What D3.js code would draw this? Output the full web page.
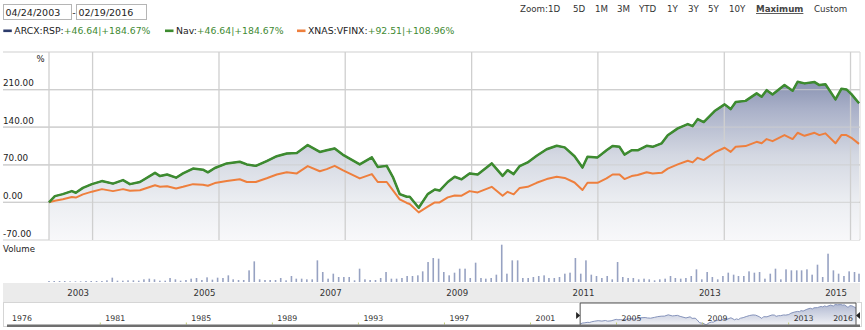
<!DOCTYPE html>
<html><head><meta charset="utf-8">
<script src="https://cdn.jsdelivr.net/npm/d3@7"></script>
<style>
html,body{margin:0;padding:0;background:#fff;}
svg{display:block;font-family:'DejaVu Sans',Verdana,sans-serif;}
</style></head>
<body><svg id="c" width="865" height="330"></svg>
<script>
// ---------------- DATA ----------------
const dates = ["2003-04-24","2003-05-28","2003-07-13","2003-09-03","2003-09-26","2003-11-06","2003-12-28","2004-02-24","2004-04-28","2004-06-25",
"2004-08-04","2004-10-01","2004-12-27","2005-01-25","2005-03-07","2005-04-28","2005-06-07","2005-08-04","2005-09-30","2005-10-29",
"2005-12-08","2006-02-15","2006-05-01","2006-06-11","2006-08-02","2006-10-04","2006-12-01","2007-01-28","2007-03-27","2007-05-29",
"2007-08-07","2007-09-16","2007-11-01","2007-12-17","2008-03-25","2008-06-03","2008-07-07","2008-08-28","2008-10-02","2008-11-11",
"2008-12-22","2009-01-08","2009-03-01","2009-04-22","2009-06-02","2009-06-30","2009-08-16","2009-09-25","2009-11-04","2009-12-20",
"2010-02-05","2010-04-27","2010-06-29","2010-07-28","2010-09-01","2010-10-06","2010-11-21","2011-01-12","2011-03-11","2011-05-08",
"2011-06-23","2011-08-19","2011-10-04","2011-11-02","2011-12-30","2012-02-20","2012-03-26","2012-05-05","2012-06-03","2012-07-14",
"2012-08-18","2012-10-09","2012-11-13","2013-01-04","2013-02-08","2013-04-07","2013-06-04","2013-07-02","2013-07-31","2013-09-04",
"2013-11-06","2014-01-03","2014-02-07","2014-03-08","2014-05-04","2014-07-07","2014-08-05","2014-09-03","2014-10-07","2014-12-15",
"2015-01-31","2015-03-01","2015-04-10","2015-06-07","2015-07-05","2015-08-09","2015-10-06","2015-11-09","2015-12-08","2016-01-06",
"2016-02-19"];
// ARCX:RSP (and Nav, identical) cumulative % return
const rspValues = [0,11.7,15.4,21,18,27,34,39.7,35,41.5, 34,38,55,49,52,46,54,63,61,56, 64,72.6,75.6,70.7,68,77,86,91,92,106.7,
94,97,100.5,89,70.7,83.8,66,68,47.7,15.5, 10.5,10.5,-10,15.5,24,22,38,47.7,43,54, 52,72.6,49.5,60,52.7,67.6,74.5,86.8,99,105.4,
102.4,86,65,85,83.8,97,105,103.5,89,97, 97,105.4,103.5,110,125,137.8,145.8,142,155,149.5, 170,182.5,173.7,187,189,203,196.6,209,201,218.4,
207.8,224.6,221.6,224,218.4,220,191.8,211.5,210.4,201.6, 184.67];
const navValues = rspValues.slice();
// XNAS:VFINX cumulative % return
const vfinxValues = [0,3,6,10,9,15,20,24.7,21,24.7, 21.6,22.5,32,29,30,26,29,34,33,31, 36,40,43,38,38,45,52,56,54,67.6,
58,62,68,60,44.7,52.7,38,38,23,5.6, -1,-3,-18.6,-8,0,0,9.3,13,12.4,21, 18.6,29,12.4,19.7,15,27,29,36.5,43.4,47.7,
45.5,37,23,36.5,36.5,44.7,52,52,43.4,49, 51,56,54,55,63,70.7,77.5,74.5,83,78.8, 93,101.7,94,103.5,104.8,112.8,110,117.9,114,125.3,
117.9,129.6,124,129.6,125.3,128.5,110,125.3,125.3,120.3, 108.96];
// monthly volume (relative units), Apr 2003 .. Feb 2016
const volumeValues = [3,3,3,3,2,2,2,3,3,3,3,5,13,4,4,5,5,4,8,10,8,4,4,12,8,4,6,10,12,6,14,7,13,12,20,8,6,6,
35,62,8,6,6,6,12,5,18,10,10,8,8,65,30,10,25,15,15,15,5,40,8,6,6,12,30,10,10,12,18,18,20,32,60,72,70,30,20,
28,40,40,12,58,12,10,12,22,112,25,65,65,12,12,15,18,20,12,12,15,25,28,72,25,65,22,18,12,18,8,60,15,12,12,8,10,8,5,
8,10,18,12,10,12,18,38,8,30,15,8,18,28,22,18,18,32,28,30,10,25,40,8,38,35,35,35,38,22,52,15,85,35,25,18,32,30,25];
const yTickValues = [-70, 0, 70, 140, 210];
const yTickLabels = ["-70.00","0.00","70.00","140.00","210.00"];
const xTickLabels = ["2003","2005","2007","2009","2011","2013","2015"];
const gridYears = [2004,2006,2008,2010,2012,2014,2016];
const navTickLabels = ["1981","1985","1989","1993","1997","2001","2005","2009","2013"];
const navStartLabel = "1976", navEndLabel = "2016";
const zoomLabels = ["Zoom:","1D","5D","1M","3M","YTD","1Y","3Y","5Y","10Y","Maximum","Custom"];
const legendItems = [
  {name:"ARCX:RSP:", value:"+46.64|+184.67%", color:"#2c3b6b"},
  {name:"Nav:", value:"+46.64|+184.67%", color:"#3d8b2f"},
  {name:"XNAS:VFINX:", value:"+92.51|+108.96%", color:"#ee7f3d"}
];
const startDateLabel = "04/24/2003", endDateLabel = "02/19/2016";

// ---------------- DRAW ----------------
const parse = d3.timeParse("%Y-%m-%d");
const D = dates.map(parse);
const svg = d3.select("#c");
const defs = svg.append("defs");

const x = d3.scaleTime().domain([D[0], D[D.length-1]]).range([49, 859]);
const y = d3.scaleLinear().domain([-70, 280]).range([240, 52]);

// header: date boxes
svg.append("rect").attr("x",3.5).attr("y",4.5).attr("width",68).attr("height",15).attr("fill","#fff").attr("stroke","#b5b5b5");
svg.append("rect").attr("x",76.5).attr("y",4.5).attr("width",70).attr("height",15).attr("fill","#fff").attr("stroke","#b5b5b5");
svg.append("text").attr("x",5.5).attr("y",15.5).attr("font-size",9.5).attr("fill","#222").text(startDateLabel);
svg.append("text").attr("x",72.3).attr("y",15.5).attr("font-size",9.5).attr("fill","#222").text("-");
svg.append("text").attr("x",78.5).attr("y",15.5).attr("font-size",9.5).attr("fill","#222").text(endDateLabel);

// zoom buttons
const zoomX = [520,548,573,595,617,639,667,688,708,729,756,814];
zoomLabels.forEach((t,i)=>{
  const el = svg.append("text").attr("x",zoomX[i]).attr("y",12).attr("font-size",8.7).attr("fill","#333").text(t);
  if (t==="Maximum") el.attr("font-weight","bold").attr("fill","#444").attr("text-decoration","underline");
});

// legend
const legX = [3.3, 165, 297];
legendItems.forEach((d,i)=>{
  svg.append("rect").attr("x",legX[i]).attr("y",29.5).attr("width",8.5).attr("height",2.6).attr("fill",d.color);
  const t = svg.append("text").attr("x",legX[i]+11).attr("y",34).attr("font-size",9.3);
  t.append("tspan").attr("fill","#222").text(d.name);
  t.append("tspan").attr("fill","#3f8a33").text(d.value);
});

// gradient for area
const grad = defs.append("linearGradient").attr("id","ag").attr("gradientUnits","userSpaceOnUse")
  .attr("x1",0).attr("x2",0).attr("y1",y(280)).attr("y2",y(-70));
[[0,"#66729a"],[0.3,"#a9b0c8"],[0.55,"#d4d8e2"],[0.8,"#eceef2"],[1,"#f8f8fa"]].forEach(s=>
  grad.append("stop").attr("offset",s[0]).attr("stop-color",s[1]));

// horizontal gridlines
svg.append("g").selectAll("line").data([...yTickValues, 280]).join("line")
  .attr("x1",3).attr("x2",860).attr("y1",d=>y(d)).attr("y2",d=>y(d))
  .attr("stroke","#d0d0d0").attr("stroke-width",1.2);

// area
const area = d3.area().x((d,i)=>x(D[i])).y0(y(-70)).y1(d=>y(d));
svg.append("path").datum(rspValues).attr("d",area).attr("fill","url(#ag)");

// vertical gridlines
svg.append("g").selectAll("line").data([D[0], ...gridYears.map(yr=>new Date(yr,0,1))]).join("line")
  .attr("x1",d=>x(d)).attr("x2",d=>x(d)).attr("y1",y(280)).attr("y2",y(-70))
  .attr("stroke","#cfcfcf").attr("stroke-width",1.3);
svg.append("line").attr("x1",860).attr("x2",860).attr("y1",y(280)).attr("y2",y(-70)).attr("stroke","#d8d8d8");
// redraw horizontal over area
svg.append("g").selectAll("line").data(yTickValues.filter(v=>v>-70)).join("line")
  .attr("x1",3).attr("x2",860).attr("y1",d=>y(d)).attr("y2",d=>y(d))
  .attr("stroke","#cfcfcf").attr("stroke-opacity",0.7).attr("stroke-width",1.2);

// y labels
svg.append("g").selectAll("text").data(yTickValues).join("text")
  .attr("x",3).attr("y",d=>y(d)-3.5).attr("font-size",8.8).attr("fill","#222")
  .text((d,i)=>yTickLabels[i]);
svg.append("text").attr("x",44.5).attr("y",62).attr("text-anchor","end").attr("font-size",8.5).attr("fill","#222").text("%");

// lines
const line = d3.line().x((d,i)=>x(D[i])).y(d=>y(d));
svg.append("path").datum(rspValues).attr("d",line).attr("fill","none").attr("stroke","#2c3b6b").attr("stroke-width",1.5);
svg.append("path").datum(vfinxValues).attr("d",line).attr("fill","none").attr("stroke","#ee7f3d").attr("stroke-width",2).attr("stroke-linejoin","round");
svg.append("path").datum(navValues).attr("d",line).attr("fill","none").attr("stroke","#3d8b2f").attr("stroke-width",2.5).attr("stroke-linejoin","round");

// volume
svg.append("text").attr("x",3).attr("y",252).attr("font-size",8.6).attr("fill","#222").text("Volume");
const vy = d3.scaleLinear().domain([0,112]).range([282,244.7]);
const months = volumeValues.map((v,i)=>d3.timeMonth.offset(D[0], i));
svg.append("g").selectAll("rect").data(volumeValues).join("rect")
  .attr("x",(d,i)=>Math.min(x(months[i]),859)-0.8).attr("width",1.6)
  .attr("y",d=>vy(d)).attr("height",d=>282-vy(d)).attr("fill","#97a2c2");

// x axis band
svg.append("rect").attr("x",3).attr("y",283).attr("width",857).attr("height",19).attr("fill","#ebebeb");
svg.append("g").selectAll("text").data(xTickLabels).join("text")
  .attr("x",d=>x(new Date(+d+1,0,1))-3.5).attr("y",296).attr("text-anchor","end")
  .attr("font-size",8.6).attr("fill","#333").text(d=>d);

// navigator
const nx = d3.scaleTime().domain([new Date(1976,7,31), D[D.length-1]]).range([7,856]);
svg.append("rect").attr("x",3.5).attr("y",302.5).attr("width",858).attr("height",24).attr("fill","#fff").attr("stroke","#d5d5d5");
const ng = defs.append("linearGradient").attr("id","ng").attr("x1",0).attr("x2",0).attr("y1",0).attr("y2",1);
ng.append("stop").attr("offset",0).attr("stop-color","#b3bbd3");
ng.append("stop").attr("offset",1).attr("stop-color","#f0f1f5");
const ny = d3.scaleLinear().domain([-10,225]).range([325,304.5]);
svg.append("path").datum(rspValues)
  .attr("d",d3.area().x((d,i)=>nx(D[i])).y0(325).y1(d=>ny(d))).attr("fill","url(#ng)");
svg.append("path").datum(rspValues)
  .attr("d",d3.line().x((d,i)=>nx(D[i])).y(d=>ny(d))).attr("fill","none").attr("stroke","#8593bb").attr("stroke-width",1);
// nav ticks
svg.append("g").selectAll("line").data(navTickLabels).join("line")
  .attr("x1",d=>nx(new Date(+d,0,1))).attr("x2",d=>nx(new Date(+d,0,1))).attr("y1",322.5).attr("y2",324.5)
  .attr("stroke","#c4cf74").attr("stroke-width",1);
svg.append("g").selectAll("text").data(navTickLabels).join("text")
  .attr("x",d=>nx(new Date(+d,0,1))+5).attr("y",321).attr("font-size",7.8).attr("fill","#333").text(d=>d);
svg.append("text").attr("x",nx(new Date(1976,7,31))+5).attr("y",321).attr("font-size",7.8).attr("fill","#333").text(navStartLabel);
svg.append("text").attr("x",nx(D[D.length-1])-3).attr("y",321).attr("text-anchor","end").attr("font-size",7.8).attr("fill","#333").text(navEndLabel);
// selection frame
const s0 = nx(D[0]), s1 = nx(D[D.length-1]);
svg.append("path").attr("d",`M${s0},325 V303 H${s1} V325`).attr("fill","none").attr("stroke","#555").attr("stroke-width",1);
svg.append("path").attr("d",`M${s0-4},312 L${s0},315.5 L${s0-4},319 Z`).attr("fill","#222");
svg.append("path").attr("d",`M${s1+4},312 L${s1},315.5 L${s1+4},319 Z`).attr("fill","#222");
svg.append("rect").attr("x",7).attr("y",324.5).attr("width",853).attr("height",2.5).attr("fill","#6f6f6f");
</script>
</body></html>
